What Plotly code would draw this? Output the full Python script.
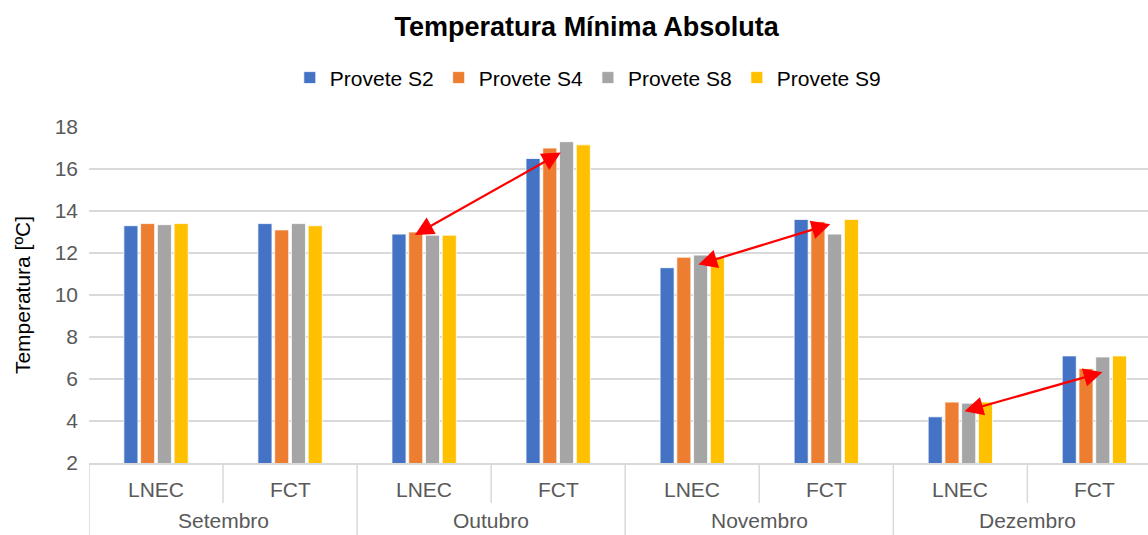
import plotly.graph_objects as go

# Months and measuring sites (two-level category axis)
months = ["Setembro", "Setembro", "Outubro", "Outubro",
          "Novembro", "Novembro", "Dezembro", "Dezembro"]
sites = ["LNEC", "FCT", "LNEC", "FCT", "LNEC", "FCT", "LNEC", "FCT"]

# Absolute minimum temperature per specimen [ºC]
s2 = [13.3, 13.4, 12.9, 16.5, 11.3, 13.6, 4.2, 7.1]
s4 = [13.4, 13.1, 13.0, 17.0, 11.8, 13.5, 4.9, 6.5]
s8 = [13.35, 13.4, 12.85, 17.3, 11.9, 12.9, 4.85, 7.05]
s9 = [13.4, 13.3, 12.85, 17.15, 11.8, 13.6, 4.9, 7.1]

series_names = ["Provete S2", "Provete S4", "Provete S8", "Provete S9"]
series_values = [s2, s4, s8, s9]
colors = ["#4472C4", "#ED7D31", "#A5A5A5", "#FFC000"]

# Double-headed arrows linking LNEC to FCT: (x0, y0, x1, y1) in axis units
arrows = [
    (1.92, 12.82, 3.02, 16.78),
    (4.035, 11.43, 5.03, 13.37),
    (6.02, 4.44, 7.06, 6.32),
]

FONT = "Liberation Sans, Arial, sans-serif"
TXT = "#595959"
LINE = "#D9D9D9"

fig = go.Figure()
for name, vals, col in zip(series_names, series_values, colors):
    fig.add_trace(go.Bar(
        x=[months, sites], y=vals, name=name,
        marker=dict(color=col, line=dict(color="white", width=0.8)),
    ))

for x0, y0, x1, y1 in arrows:
    fig.add_annotation(
        x=x1, y=y1, ax=x0, ay=y0,
        xref="x", yref="y", axref="x", ayref="y",
        text="", showarrow=True, arrowside="end+start",
        arrowhead=2, arrowsize=1.7, arrowwidth=2.2, arrowcolor="#FF0000",
    )

# Two-level category labels and dividers under the plot area
SITE_Y, MONTH_Y = -0.080, -0.172
SUB_DIV_Y, MAIN_DIV_Y = -0.119, -0.214
for i, site in enumerate(sites):
    fig.add_annotation(x=i, y=SITE_Y, xref="x", yref="paper", text=site,
                       showarrow=False, yanchor="middle",
                       font=dict(family=FONT, size=21, color=TXT))
month_order = list(dict.fromkeys(months))
for m in month_order:
    idx = [i for i, mm in enumerate(months) if mm == m]
    fig.add_annotation(x=(idx[0] + idx[-1]) / 2, y=MONTH_Y, xref="x",
                       yref="paper", text=m, showarrow=False,
                       yanchor="middle",
                       font=dict(family=FONT, size=21, color=TXT))
    # month boundary on the left of each group
    fig.add_shape(type="line", xref="x", yref="paper",
                  x0=idx[0] - 0.5, x1=idx[0] - 0.5, y0=0, y1=MAIN_DIV_Y,
                  line=dict(color=LINE, width=1.5))
    # site boundaries inside a month
    for j in idx[1:]:
        fig.add_shape(type="line", xref="x", yref="paper",
                      x0=j - 0.5, x1=j - 0.5, y0=0, y1=SUB_DIV_Y,
                      line=dict(color=LINE, width=1.5))

fig.update_layout(
    width=1148, height=535,
    margin=dict(l=89, r=0, t=127, b=72),
    paper_bgcolor="white", plot_bgcolor="white",
    barmode="group", bargap=0.5, bargroupgap=0.16,
    font=dict(family=FONT, size=21, color=TXT),
    title=dict(text="<b>Temperatura Mínima Absoluta</b>",
               x=0.511, xanchor="center", y=0.95, yanchor="middle",
               font=dict(family=FONT, size=27, color="#000000")),
    legend=dict(orientation="h", x=0.471, xanchor="center",
                y=1.146, yanchor="middle",
                font=dict(family=FONT, size=21, color="#000000"),
                itemwidth=30, traceorder="normal"),
    showlegend=True,
)

fig.update_xaxes(
    range=[-0.5, 7.4], automargin=False,
    showline=True, linecolor=LINE, linewidth=1.5,
    showticklabels=False, showdividers=False, ticks="",
)
fig.update_yaxes(
    range=[2, 18], dtick=2, automargin=False,
    showgrid=True, gridcolor=LINE, gridwidth=1.5,
    zeroline=False, showline=False,
    tickfont=dict(family=FONT, size=21, color=TXT),
    ticklabelstandoff=10,
    title=dict(text="Temperatura [ºC]",
               font=dict(family=FONT, size=21, color="#000000"),
               standoff=18),
)

fig.write_html("out.html")
